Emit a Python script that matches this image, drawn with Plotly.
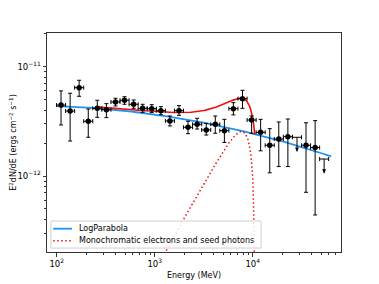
import numpy as np
import plotly.graph_objects as go

# ---------------- data ----------------
energy_mev = [110.7, 137.1, 169.4, 209.9, 259.4, 321.4, 398.1, 492.0, 609.5, 753.4,
              933.3, 1156, 1429, 1770, 2188, 2710, 3357, 4150, 5140, 6353,
              7870, 9750, 12050, 14930, 18450, 22860, 28310, 34990, 43350, 53580]
# E^2 dN/dE in units of 1e-12 erg cm^-2 s^-1
flux = [4.46, 3.93, 6.43, 3.17, 4.16, 4.04, 4.75, 4.93, 4.53, 4.16,
        4.13, 3.96, 3.19, 3.96, 2.79, 2.97, 2.64, 2.97, 2.60, 4.13,
        5.10, 3.25, 2.51, 1.91, 2.18, 2.29, 2.26, 1.91, 1.82, 1.43]
flux_hi = [6.00, 5.71, 7.51, 4.10, 4.93, 4.59, 5.14, 5.31, 4.96, 4.53,
           4.49, 4.31, 3.54, 4.40, 3.17, 3.37, 3.03, 3.54, 3.30, 4.69,
           6.08, 3.54, 3.30, 2.71, 3.12, 3.32, 2.26, 3.07, 3.21, 1.43]
flux_lo = [2.93, 2.09, 5.36, 2.26, 3.44, 3.42, 4.37, 4.53, 4.16, 3.83,
           3.80, 3.64, 2.87, 3.59, 2.44, 2.69, 2.37, 2.46, 2.03, 3.62,
           4.16, 2.46, 1.70, 1.07, 1.22, 1.22, 2.26, 0.710, 0.440, 1.43]
upper_limit = [False] * 26 + [True, False, False, True]

legend_labels = ["LogParabola", "Monochromatic electrons and seed photons"]

# model parameters (log10 parabola: log F = a + b t + c t^2, t = log10(E/1 GeV))
lp_a, lp_b, lp_c = -11.438, -0.126, -0.048          # LogParabola (blue)
lpm_a, lpm_b, lpm_c = -11.425, -0.130, -0.060       # underlying LP of combined fit (red)
mono_norm = 2.335e-11                                # monochromatic IC normalisation
mono_emax = 10500.0                                  # MeV, cutoff
red_emin = 256.0                                     # MeV, start of combined fit

unit = 1e-12
E = np.array(energy_mev)
F = np.array(flux) * unit
Fhi = np.array(flux_hi) * unit
Flo = np.array(flux_lo) * unit
ul = np.array(upper_limit)

# log bin edges from neighbouring centres
lgE = np.log10(E)
mids = (lgE[1:] + lgE[:-1]) / 2
edges = np.concatenate([[lgE[0] - (mids[0] - lgE[0])], mids, [lgE[-1] + (lgE[-1] - mids[-1])]])
e_lo = 10 ** edges[:-1]
e_hi = 10 ** edges[1:]


def logparabola(e, a, b, c):
    t = np.log10(e / 1000.0)
    return 10 ** (a + b * t + c * t * t)


def mono_ic(e):
    x = np.clip(e / mono_emax, 1e-9, 1.0)
    f = 2 * x * np.log(x) + x + 1 - 2 * x * x
    return np.where(e < mono_emax, mono_norm * x * x * np.clip(f, 0, None), 0.0)


blue = "#1f93f5"
red = "#f01010"
dot_pattern = "1.5px,2.5px"

fig = go.Figure()

e_blue = np.logspace(2, 4.8, 300)
fig.add_trace(go.Scatter(x=e_blue, y=logparabola(e_blue, lp_a, lp_b, lp_c), mode="lines",
                         line=dict(color=blue, width=1.8), name=legend_labels[0],
                         showlegend=False))

e_red = np.concatenate([np.logspace(np.log10(red_emin), np.log10(mono_emax * 0.97), 200),
                        mono_emax * np.linspace(0.97, 0.99999, 80)])
fig.add_trace(go.Scatter(x=e_red, y=logparabola(e_red, lpm_a, lpm_b, lpm_c) + mono_ic(e_red),
                         mode="lines", line=dict(color=red, width=1.6), showlegend=False,
                         name="LogParabola + mono"))

e_mono = np.concatenate([np.logspace(3, np.log10(mono_emax * 0.97), 200),
                         mono_emax * np.linspace(0.97, 0.999999, 120)])
fig.add_trace(go.Scatter(x=e_mono, y=mono_ic(e_mono), mode="lines",
                         line=dict(color=red, width=1.5, dash=dot_pattern),
                         name=legend_labels[1], showlegend=False))

# detected points
d = ~ul
fig.add_trace(go.Scatter(
    x=E[d], y=F[d], mode="markers", showlegend=False,
    marker=dict(color="black", size=5.5),
    error_y=dict(type="data", array=(Fhi - F)[d], arrayminus=(F - Flo)[d],
                 color="black", thickness=1, width=2),
    error_x=dict(type="data", array=(e_hi - E)[d], arrayminus=(E - e_lo)[d],
                 color="black", thickness=1, width=2)))

# upper limits
arrow_frac = 10 ** -0.13
fig.add_trace(go.Scatter(
    x=E[ul], y=F[ul], mode="markers", showlegend=False,
    marker=dict(color="black", size=1, opacity=0),
    error_y=dict(type="data", array=np.zeros(ul.sum()), arrayminus=(F * (1 - arrow_frac))[ul],
                 color="black", thickness=1, width=0),
    error_x=dict(type="data", array=(e_hi - E)[ul], arrayminus=(E - e_lo)[ul],
                 color="black", thickness=1, width=2)))
fig.add_trace(go.Scatter(
    x=E[ul], y=F[ul] * arrow_frac, mode="markers", showlegend=False,
    marker=dict(symbol="arrow-down", color="black", size=4)))

font = dict(family="DejaVu Sans", size=8, color="black")
tick_font = dict(family="DejaVu Sans", size=8.5, color="black")
axis_common = dict(type="log", showgrid=False, zeroline=False, showline=True, mirror=True,
                   linecolor="#333333", linewidth=1, ticks="outside", ticklen=3.5,
                   tickwidth=0.8, tickcolor="#333333", tickfont=tick_font, automargin=False)

# compact legend drawn as shapes + text (paper coordinates)
shapes = [
    dict(type="rect", xref="paper", yref="paper", x0=0.0136, x1=0.728, y0=0.018, y1=0.1416,
         line=dict(color="#d0d0d0", width=1), fillcolor="rgba(255,255,255,0.85)", layer="above"),
    dict(type="line", xref="paper", yref="paper", x0=0.021, x1=0.085, y0=0.1064, y1=0.1064,
         line=dict(color=blue, width=1.8), layer="above"),
    dict(type="line", xref="paper", yref="paper", x0=0.021, x1=0.085, y0=0.0516, y1=0.0516,
         line=dict(color=red, width=1.5, dash=dot_pattern), layer="above"),
]
annotations = [
    dict(text=legend_labels[0], xref="paper", yref="paper", x=0.103, y=0.1064,
         xanchor="left", yanchor="middle", showarrow=False, font=font),
    dict(text=legend_labels[1], xref="paper", yref="paper", x=0.103, y=0.0516,
         xanchor="left", yanchor="middle", showarrow=False, font=font),
]

fig.update_layout(
    width=371, height=276,
    margin=dict(l=39, r=38, t=25, b=32),
    paper_bgcolor="white", plot_bgcolor="white",
    font=font,
    xaxis=dict(axis_common, range=[1.901, 4.901],
               tickvals=[100, 1000, 10000],
               ticktext=["10<sup>2</sup>", "10<sup>3</sup>", "10<sup>4</sup>"],
               minor=dict(ticks="outside", ticklen=2, tickwidth=0.6, tickcolor="#333333",
                          tickvals=[200, 300, 400, 500, 600, 700, 800, 900,
                                    2000, 3000, 4000, 5000, 6000, 7000, 8000, 9000,
                                    20000, 30000, 40000, 50000, 60000, 70000]),
               title=dict(text="Energy (MeV)", font=font, standoff=4)),
    yaxis=dict(axis_common, range=[-12.695, -10.692],
               tickvals=[1e-12, 1e-11],
               ticktext=["10<sup>\u221212</sup>", "10<sup>\u221211</sup>"],
               minor=dict(ticks="outside", ticklen=2, tickwidth=0.6, tickcolor="#333333",
                          tickvals=[3e-13, 4e-13, 5e-13, 6e-13, 7e-13, 8e-13, 9e-13,
                                    2e-12, 3e-12, 4e-12, 5e-12, 6e-12, 7e-12, 8e-12, 9e-12,
                                    2e-11]),
               title=dict(text="E<sup>2</sup>dN/dE (ergs cm<sup>\u22122</sup> s<sup>\u22121</sup>)",
                          font=font, standoff=10)),
    shapes=shapes,
    annotations=annotations,
    showlegend=False,
)

fig.write_html("out.html")
